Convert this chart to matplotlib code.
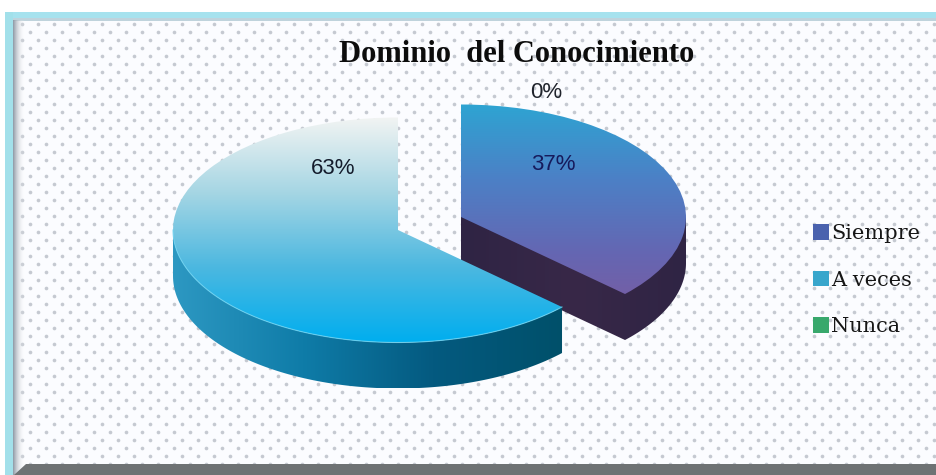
import matplotlib
matplotlib.use("Agg")
import matplotlib.pyplot as plt
import numpy as np
from matplotlib.colors import LinearSegmentedColormap
from matplotlib.patches import Patch, Polygon, Rectangle

W, H = 937, 475
RX, RY = 225.0, 112.5  # pie radii in pixels, the tilt is just the squashed y axis
DEPTH = 46

categories = ["Siempre", "A veces", "Nunca"]
values = [37, 63, 0]
legend_colors = ["#4a62ae", "#38a6cc", "#38a86c"]
title = "Dominio  del Conocimiento"

# slice centres in pixels (slices are pulled apart by hand in the original)
centers = {"Siempre": (461, 217), "A veces": (398, 230)}
label_pos = {"Siempre": (553, 164), "A veces": (333, 168), "Nunca": (546, 92)}
label_colors = {"Siempre": "#161a5c", "A veces": "#141c2c", "Nunca": "#20242c"}

top_colors = {
    "Siempre": ["#2ea4d2", "#4c80c6", "#6566b2", "#7e5a9e"],
    "A veces": ["#f2f4f3", "#a6d6e4", "#4cb8e0", "#00aeef"],
}
side_colors = {
    "Siempre": ["#2f2444", "#382848", "#2f2444"],
    "A veces": ["#2d98c2", "#0f7ca8", "#045a80", "#00506a"],
}


def X(x):
    return np.asarray(x, dtype=float) / RX


def Y(y):
    return (H - np.asarray(y, dtype=float)) / RY


def gradient(ax, colors, box, clip, vertical, zorder):
    """Draw a gradient in box (pixels: left, right, top, bottom) clipped to a patch."""
    cmap = LinearSegmentedColormap.from_list("g", colors)
    ramp = np.linspace(0, 1, 256)
    arr = ramp[:, None] if vertical else ramp[None, :]
    left, right, top, bottom = box
    im = ax.imshow(arr, cmap=cmap, aspect="auto", origin="upper", zorder=zorder,
                   extent=(X(left), X(right), Y(bottom), Y(top)))
    im.set_clip_path(clip)


def arc(cx, cy, a, b, drop=0):
    """Points on the rim, angles in degrees clockwise from the top."""
    t = np.radians(np.linspace(a, b, 120))
    return np.column_stack([X(cx + RX * np.sin(t)), Y(cy + drop - RY * np.cos(t))])


fig = plt.figure(figsize=(W / 100, H / 100), dpi=100, facecolor="white")

# frame and dotted background
bg = fig.add_axes([0, 0, 1, 1])
bg.set_xlim(0, W)
bg.set_ylim(H, 0)
bg.axis("off")
bg.add_patch(Rectangle((5, 12), W - 5, H - 12, fc="#fbfcff", ec="none", zorder=1))
xs, ys = np.meshgrid(np.arange(22, W, 16), np.arange(24, 470, 16))
bg.scatter(xs.ravel(), ys.ravel(), s=7, color="#b4b9c2", lw=0, alpha=0.75, zorder=2)
bg.scatter(xs.ravel() + 8, ys.ravel() + 8, s=7, color="#b4b9c2", lw=0, alpha=0.75, zorder=2)
bg.add_patch(Rectangle((5, 12), W - 5, 6, fc="#a6e2ee", ec="none", zorder=3))
bg.add_patch(Rectangle((5, 18), W - 5, 3, fc="#98b8c6", ec="none", alpha=0.6, zorder=3))
bg.add_patch(Rectangle((5, 12), 8, H - 12, fc="#a2e0ea", ec="none", zorder=3))
bg.imshow(np.linspace(0, 1, 32)[None, :], cmap=LinearSegmentedColormap.from_list(
    "e", ["#8f9aa6", "#ffffff00"]), extent=(13, 25, H, 20), aspect="auto", zorder=3)
bg.add_patch(Polygon([(14, H), (26, 464), (W, 464), (W, H)], fc="#6e7274", ec="none", zorder=4))
bg.set_xlim(0, W)
bg.set_ylim(H, 0)

# pie, on its own axes so y can be squashed
ax = fig.add_axes([0, 0, 1, 1], facecolor="none")
wedges, _ = ax.pie(values, startangle=90, counterclock=False, radius=1,
                   colors=legend_colors, normalize=True)
ax.set_aspect("auto")

angle = 0.0
for z, (name, val, wedge) in enumerate(zip(categories, values, wedges)):
    sweep = 360.0 * val / sum(values)
    a, b = angle, angle + sweep
    angle = b
    if val == 0:
        wedge.set_visible(False)
        continue
    cx, cy = centers[name]
    wedge.set_center((X(cx), Y(cy)))
    wedge.set_facecolor("none")
    wedge.set_edgecolor("none")

    # side wall first, the top surface covers whatever it overlaps
    if name == "Siempre":
        rim = arc(cx, cy, 90, b, DEPTH)
        pts = np.vstack([[[X(cx + RX), Y(cy)]], rim,
                         [[X(cx), Y(cy + DEPTH)]], [[X(cx), Y(cy)]]])
        box = (cx, cx + RX, cy, cy + RY + DEPTH)
    else:
        upper = arc(cx, cy, a, 270)
        lower = arc(cx, cy, 270, a, DEPTH)
        pts = np.vstack([upper, lower])
        box = (cx - RX, cx + RX * np.sin(np.radians(a)), cy, cy + RY + DEPTH)
    wall = Polygon(pts, closed=True, transform=ax.transData, fc="none", ec="none")
    gradient(ax, side_colors[name], box, wall, False, 3 + 3 * z)

    gradient(ax, top_colors[name], (cx - RX, cx + RX, cy - RY, cy + RY), wedge, True, 4 + 3 * z)
    if name == "A veces":
        ax.plot(*arc(cx, cy, a, 270).T, color="#6fd4f2", lw=0.8, alpha=0.8, zorder=5 + 3 * z)

ax.set_xlim(0, W / RX)
ax.set_ylim(0, H / RY)
ax.axis("off")

ax.text(517, 54, title, transform=bg.transData, ha="center", va="center",
        family="Liberation Serif", weight="bold", size=22, color="#0c0c0c", zorder=20)
for name, val in zip(categories, values):
    lx, ly = label_pos[name]
    ax.text(lx, ly, f"{val}%", transform=bg.transData, ha="center", va="center",
            family="Liberation Sans", size=16, color=label_colors[name], zorder=20)

handles = [Patch(fc=c, ec="none") for c in legend_colors]
leg = ax.legend(handles, categories, loc="upper left", bbox_to_anchor=(813 / W, 1 - 224 / H),
                bbox_transform=fig.transFigure, frameon=False, borderpad=0, borderaxespad=0,
                handlelength=0.77, handleheight=0.77, handletextpad=0.1, labelspacing=1.33,
                prop={"family": "DejaVu Serif", "size": 15})
for t in leg.get_texts():
    t.set_color("#161616")

fig.savefig("out.png", dpi=100, facecolor="white")
plt.close(fig)
